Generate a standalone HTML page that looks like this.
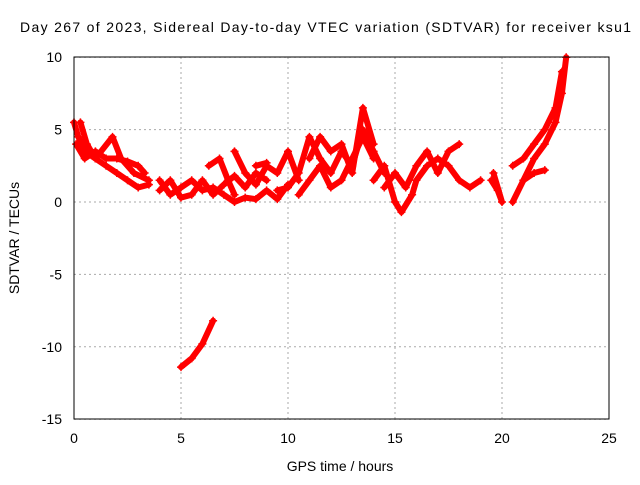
<!DOCTYPE html>
<html><head><meta charset="utf-8"><style>
body{margin:0;background:#fff}
svg{font-family:"Liberation Sans",sans-serif;font-size:14px}
</style></head><body>
<svg id="c" width="640" height="480">
<text x="20" y="32" textLength="611" lengthAdjust="spacing">Day 267 of 2023, Sidereal Day-to-day VTEC variation (SDTVAR) for receiver ksu1</text>
<text x="340" y="471" text-anchor="middle">GPS time / hours</text>
<text transform="translate(19,238) rotate(-90)" text-anchor="middle">SDTVAR / TECUs</text>
<g id="grid"></g><g id="marks"></g>
<rect x="74" y="57" width="535" height="362" fill="none" stroke="#000"/>
</svg>
<script>
const xTicks=[0,5,10,15,20,25];
const yTicks=[-15,-10,-5,0,5,10];
const traces=[
[[0,5.5],[0.2,4.5],[0.5,3.5],[1,3],[1.5,2.5],[2,2],[2.5,1.5],[3,1],[3.5,1.2]],
[[0.1,4],[0.5,3],[1,3.5],[1.5,3],[2,3],[2.5,2.8],[3,2.5],[3.3,2]],
[[0.3,5.5],[0.6,4],[1,3],[1.8,4.5],[2.2,3],[2.8,2],[3.5,1.5]],
[[4,1.5],[4.5,0.5],[5,1],[5.5,1.5],[6,0.8],[6.5,1],[7,0.5],[7.5,0],[8,0.3],[8.5,0.2],[9,0.8],[9.5,0.2],[10,1.2]],
[[4,0.8],[4.5,1.5],[5,0.3],[5.5,0.5],[6,1.5],[6.5,0.5],[7,1.2],[7.5,1.8],[8,1],[8.5,2],[9,1.5]],
[[6.3,2.5],[6.8,3],[7.2,1.5],[7.5,0.5]],
[[7.5,3.5],[8,2],[8.5,1.2],[9,2.5],[9.5,2],[10,3.5],[10.5,1.5]],
[[8.5,2.5],[9,2.7]],
[[9.5,0.8],[10,1],[10.5,2],[11,4.5],[11.5,3],[12,2],[12.5,3.5],[13,2.5],[13.5,5],[14,3.5],[14.5,2]],
[[10.5,0.5],[11,1.5],[11.5,2.5],[12,1],[12.5,1.5],[13,3],[13.5,4.5],[14,3]],
[[11,3],[11.5,4.5],[12,3.5],[12.5,4],[13,2],[13.5,6.5],[14,4]],
[[14,1.5],[14.5,2.5],[15,0],[15.3,-0.7],[15.8,0.5],[16,1.5],[16.5,2.5],[17,3],[17.5,2.5],[18,1.5],[18.5,1],[19,1.5]],
[[14.5,1],[15,2],[15.5,1],[16,2.5],[16.5,3.5],[17,2],[17.5,3.5],[18,4]],
[[19.5,1.5],[19.8,0.8],[20,0],[19.6,2]],
[[20.5,0],[21,1.5],[21.5,3],[22,4],[22.5,5.5],[22.8,7.5],[23,10]],
[[20.5,2.5],[21,3],[21.5,4],[22,5],[22.5,6.5],[22.8,9]],
[[21,1.5],[21.5,2],[22,2.2]],
[[5,-11.4],[5.5,-10.8],[6,-9.8],[6.5,-8.2]]
];
const X=v=>74+v*535/25, Y=v=>202-v*362/25;
const NS='http://www.w3.org/2000/svg';
const svg=document.getElementById('c'),grid=document.getElementById('grid'),marks=document.getElementById('marks');
function mk(t,a,p){const e=document.createElementNS(NS,t);for(const k in a)e.setAttribute(k,a[k]);p.appendChild(e);return e;}
xTicks.forEach(t=>{
 const l=mk('line',{x1:X(t),x2:X(t),y1:57,y2:419,stroke:'#aaa','stroke-dasharray':'2,3'},grid);
 
 
 const tx=mk('text',{x:X(t),y:443,'text-anchor':'middle'},svg);tx.textContent=t;
 
 
});
yTicks.forEach(t=>{
 const l=mk('line',{x1:74,x2:609,y1:Y(t),y2:Y(t),stroke:'#aaa','stroke-dasharray':'2,3'},grid);
 
 
 const tx=mk('text',{x:62,y:Y(t)+5,'text-anchor':'end'},svg);tx.textContent=t;
 
 
});
traces.forEach(tr=>{
 const pl=mk('polyline',{points:tr.map(p=>X(p[0])+','+Y(p[1])).join(' '),fill:'none',stroke:'#f00','stroke-width':6,'stroke-linejoin':'round','stroke-linecap':'round'},marks);
 
 
 tr.forEach(p=>{
  const g=mk('path',{d:`M${X(p[0])-4},${Y(p[1])}h8M${X(p[0])},${Y(p[1])-4}v8`,stroke:'#f00','stroke-width':1.5},marks);
  
  
 });
});
</script>
</body></html>
